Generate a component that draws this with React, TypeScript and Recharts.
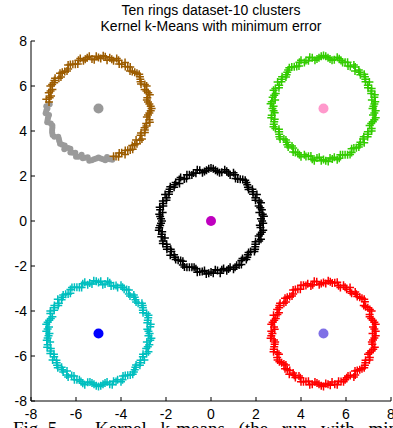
import React from "react";
import { ScatterChart, Scatter, XAxis, YAxis } from "recharts";

const TICKS = [-8, -6, -4, -2, 0, 2, 4, 6, 8];
const TITLE_1 = "Ten rings dataset-10 clusters";
const TITLE_2 = "Kernel k-Means with minimum error";

const RING_CENTER: [number, number][] = [
  [2.27, 0], [2.35, 0.21], [2.15, 0.38], [2.19, 0.59], [2.22, 0.81], [1.98, 0.92], [2.04, 1.18], [1.86, 1.3], [1.67, 1.4],
  [1.61, 1.61], [1.52, 1.81], [1.3, 1.86], [1.09, 1.89], [1.0, 2.14], [0.78, 2.13], [0.61, 2.28], [0.38, 2.15], [0.2, 2.26],
  [0, 2.36], [-0.2, 2.26], [-0.38, 2.15], [-0.61, 2.28], [-0.78, 2.13], [-0.96, 2.06], [-1.09, 1.89], [-1.35, 1.93], [-1.4, 1.67],
  [-1.61, 1.61], [-1.81, 1.52], [-1.86, 1.3], [-2.04, 1.18], [-1.98, 0.92], [-2.13, 0.78], [-2.28, 0.61], [-2.15, 0.38], [-2.26, 0.2],
  [-2.18, 0], [-2.26, -0.2], [-2.32, -0.41], [-2.19, -0.59], [-2.05, -0.75], [-2.14, -1.0], [-1.97, -1.14], [-1.79, -1.25], [-1.81, -1.52],
  [-1.61, -1.61], [-1.46, -1.74], [-1.25, -1.79], [-1.18, -2.04], [-0.96, -2.06], [-0.75, -2.05], [-0.61, -2.28], [-0.39, -2.24], [-0.21, -2.35],
  [0, -2.27], [0.19, -2.17], [0.41, -2.32], [0.56, -2.11], [0.78, -2.13], [1.0, -2.14], [1.14, -1.97], [1.35, -1.93], [1.4, -1.67],
  [1.61, -1.61], [1.67, -1.4], [1.93, -1.35], [1.97, -1.14], [1.98, -0.92], [2.22, -0.81], [2.19, -0.59], [2.32, -0.41], [2.17, -0.19],
  [2.22, 0.1], [2.3, 0.3], [2.26, 0.5], [2.12, 0.67], [2.14, 0.89], [1.97, 1.03], [1.87, 1.19], [1.84, 1.41], [1.64, 1.5],
  [1.57, 1.71], [1.41, 1.84], [1.19, 1.87], [1.07, 2.06], [0.85, 2.05], [0.7, 2.21], [0.48, 2.17], [0.29, 2.2], [0.1, 2.32],
  [-0.1, 2.32], [-0.29, 2.2], [-0.5, 2.26], [-0.67, 2.12], [-0.85, 2.05], [-1.07, 2.06], [-1.19, 1.87], [-1.41, 1.84], [-1.57, 1.71],
  [-1.64, 1.5], [-1.84, 1.41], [-1.87, 1.19], [-1.97, 1.03], [-2.14, 0.89], [-2.12, 0.67], [-2.26, 0.5], [-2.3, 0.3], [-2.22, 0.1],
  [-2.22, -0.1], [-2.3, -0.3], [-2.17, -0.48], [-2.21, -0.7], [-2.14, -0.89], [-1.97, -1.03], [-1.96, -1.25], [-1.76, -1.35], [-1.64, -1.5],
  [-1.57, -1.71], [-1.35, -1.76], [-1.25, -1.96], [-1.07, -2.06], [-0.85, -2.05], [-0.67, -2.12], [-0.5, -2.26], [-0.29, -2.2], [-0.1, -2.32],
  [0.1, -2.32], [0.29, -2.2], [0.48, -2.17], [0.7, -2.21], [0.85, -2.05], [1.07, -2.06], [1.25, -1.96], [1.35, -1.76], [1.57, -1.71],
  [1.64, -1.5], [1.76, -1.35], [1.96, -1.25], [1.97, -1.03], [2.14, -0.89], [2.12, -0.67], [2.26, -0.5], [2.2, -0.29], [2.32, -0.1],
];

const RING_GREEN: [number, number][] = [
  [2.73, 5], [2.65, 5.21], [2.85, 5.38], [2.81, 5.59], [2.78, 5.81], [3.02, 5.92], [2.96, 6.18], [3.14, 6.3], [3.33, 6.4],
  [3.39, 6.61], [3.48, 6.81], [3.7, 6.86], [3.91, 6.89], [4.0, 7.14], [4.22, 7.13], [4.39, 7.28], [4.62, 7.15], [4.8, 7.26],
  [5, 7.36], [5.2, 7.26], [5.38, 7.15], [5.61, 7.28], [5.78, 7.13], [5.96, 7.06], [6.09, 6.89], [6.35, 6.93], [6.4, 6.67],
  [6.61, 6.61], [6.81, 6.52], [6.86, 6.3], [7.04, 6.18], [6.98, 5.92], [7.13, 5.78], [7.28, 5.61], [7.15, 5.38], [7.26, 5.2],
  [7.18, 5], [7.26, 4.8], [7.32, 4.59], [7.19, 4.41], [7.05, 4.25], [7.14, 4.0], [6.97, 3.86], [6.79, 3.75], [6.81, 3.48],
  [6.61, 3.39], [6.46, 3.26], [6.25, 3.21], [6.18, 2.96], [5.96, 2.94], [5.75, 2.95], [5.61, 2.72], [5.39, 2.76], [5.21, 2.65],
  [5, 2.73], [4.81, 2.83], [4.59, 2.68], [4.44, 2.89], [4.22, 2.87], [4.0, 2.86], [3.86, 3.03], [3.65, 3.07], [3.6, 3.33],
  [3.39, 3.39], [3.33, 3.6], [3.07, 3.65], [3.03, 3.86], [3.02, 4.08], [2.78, 4.19], [2.81, 4.41], [2.68, 4.59], [2.83, 4.81],
  [7.22, 5.1], [7.3, 5.3], [7.26, 5.5], [7.12, 5.67], [7.14, 5.89], [6.97, 6.03], [6.87, 6.19], [6.84, 6.41], [6.64, 6.5],
  [6.57, 6.71], [6.41, 6.84], [6.19, 6.87], [6.07, 7.06], [5.85, 7.05], [5.7, 7.21], [5.48, 7.17], [5.29, 7.2], [5.1, 7.32],
  [4.9, 7.32], [4.71, 7.2], [4.5, 7.26], [4.33, 7.12], [4.15, 7.05], [3.93, 7.06], [3.81, 6.87], [3.59, 6.84], [3.43, 6.71],
  [3.36, 6.5], [3.16, 6.41], [3.13, 6.19], [3.03, 6.03], [2.86, 5.89], [2.88, 5.67], [2.74, 5.5], [2.7, 5.3], [2.78, 5.1],
  [2.78, 4.9], [2.7, 4.7], [2.83, 4.52], [2.79, 4.3], [2.86, 4.11], [3.03, 3.97], [3.04, 3.75], [3.24, 3.65], [3.36, 3.5],
  [3.43, 3.29], [3.65, 3.24], [3.75, 3.04], [3.93, 2.94], [4.15, 2.95], [4.33, 2.88], [4.5, 2.74], [4.71, 2.8], [4.9, 2.68],
  [5.1, 2.68], [5.29, 2.8], [5.48, 2.83], [5.7, 2.79], [5.85, 2.95], [6.07, 2.94], [6.25, 3.04], [6.35, 3.24], [6.57, 3.29],
  [6.64, 3.5], [6.76, 3.65], [6.96, 3.75], [6.97, 3.97], [7.14, 4.11], [7.12, 4.33], [7.26, 4.5], [7.2, 4.71], [7.32, 4.9],
];

const RING_CYAN: [number, number][] = [
  [-2.73, -5], [-2.65, -5.21], [-2.85, -5.38], [-2.81, -5.59], [-2.78, -5.81], [-3.02, -5.92], [-2.96, -6.18], [-3.14, -6.3], [-3.33, -6.4],
  [-3.39, -6.61], [-3.48, -6.81], [-3.7, -6.86], [-3.91, -6.89], [-4.0, -7.14], [-4.22, -7.13], [-4.39, -7.28], [-4.62, -7.15], [-4.8, -7.26],
  [-5, -7.36], [-5.2, -7.26], [-5.38, -7.15], [-5.61, -7.28], [-5.78, -7.13], [-5.96, -7.06], [-6.09, -6.89], [-6.35, -6.93], [-6.4, -6.67],
  [-6.61, -6.61], [-6.81, -6.52], [-6.86, -6.3], [-7.04, -6.18], [-6.98, -5.92], [-7.13, -5.78], [-7.28, -5.61], [-7.15, -5.38], [-7.26, -5.2],
  [-7.18, -5], [-7.26, -4.8], [-7.32, -4.59], [-7.19, -4.41], [-7.05, -4.25], [-7.14, -4.0], [-6.97, -3.86], [-6.79, -3.75], [-6.81, -3.48],
  [-6.61, -3.39], [-6.46, -3.26], [-6.25, -3.21], [-6.18, -2.96], [-5.96, -2.94], [-5.75, -2.95], [-5.61, -2.72], [-5.39, -2.76], [-5.21, -2.65],
  [-5, -2.73], [-4.81, -2.83], [-4.59, -2.68], [-4.44, -2.89], [-4.22, -2.87], [-4.0, -2.86], [-3.86, -3.03], [-3.65, -3.07], [-3.6, -3.33],
  [-3.39, -3.39], [-3.33, -3.6], [-3.07, -3.65], [-3.03, -3.86], [-3.02, -4.08], [-2.78, -4.19], [-2.81, -4.41], [-2.68, -4.59], [-2.83, -4.81],
  [-7.22, -5.1], [-7.3, -5.3], [-7.26, -5.5], [-7.12, -5.67], [-7.14, -5.89], [-6.97, -6.03], [-6.87, -6.19], [-6.84, -6.41], [-6.64, -6.5],
  [-6.57, -6.71], [-6.41, -6.84], [-6.19, -6.87], [-6.07, -7.06], [-5.85, -7.05], [-5.7, -7.21], [-5.48, -7.17], [-5.29, -7.2], [-5.1, -7.32],
  [-4.9, -7.32], [-4.71, -7.2], [-4.5, -7.26], [-4.33, -7.12], [-4.15, -7.05], [-3.93, -7.06], [-3.81, -6.87], [-3.59, -6.84], [-3.43, -6.71],
  [-3.36, -6.5], [-3.16, -6.41], [-3.13, -6.19], [-3.03, -6.03], [-2.86, -5.89], [-2.88, -5.67], [-2.74, -5.5], [-2.7, -5.3], [-2.78, -5.1],
  [-2.78, -4.9], [-2.7, -4.7], [-2.83, -4.52], [-2.79, -4.3], [-2.86, -4.11], [-3.03, -3.97], [-3.04, -3.75], [-3.24, -3.65], [-3.36, -3.5],
  [-3.43, -3.29], [-3.65, -3.24], [-3.75, -3.04], [-3.93, -2.94], [-4.15, -2.95], [-4.33, -2.88], [-4.5, -2.74], [-4.71, -2.8], [-4.9, -2.68],
  [-5.1, -2.68], [-5.29, -2.8], [-5.48, -2.83], [-5.7, -2.79], [-5.85, -2.95], [-6.07, -2.94], [-6.25, -3.04], [-6.35, -3.24], [-6.57, -3.29],
  [-6.64, -3.5], [-6.76, -3.65], [-6.96, -3.75], [-6.97, -3.97], [-7.14, -4.11], [-7.12, -4.33], [-7.26, -4.5], [-7.2, -4.71], [-7.32, -4.9],
];

const RING_RED: [number, number][] = [
  [2.73, -5], [2.65, -5.21], [2.85, -5.38], [2.81, -5.59], [2.78, -5.81], [3.02, -5.92], [2.96, -6.18], [3.14, -6.3], [3.33, -6.4],
  [3.39, -6.61], [3.48, -6.81], [3.7, -6.86], [3.91, -6.89], [4.0, -7.14], [4.22, -7.13], [4.39, -7.28], [4.62, -7.15], [4.8, -7.26],
  [5, -7.36], [5.2, -7.26], [5.38, -7.15], [5.61, -7.28], [5.78, -7.13], [5.96, -7.06], [6.09, -6.89], [6.35, -6.93], [6.4, -6.67],
  [6.61, -6.61], [6.81, -6.52], [6.86, -6.3], [7.04, -6.18], [6.98, -5.92], [7.13, -5.78], [7.28, -5.61], [7.15, -5.38], [7.26, -5.2],
  [7.18, -5], [7.26, -4.8], [7.32, -4.59], [7.19, -4.41], [7.05, -4.25], [7.14, -4.0], [6.97, -3.86], [6.79, -3.75], [6.81, -3.48],
  [6.61, -3.39], [6.46, -3.26], [6.25, -3.21], [6.18, -2.96], [5.96, -2.94], [5.75, -2.95], [5.61, -2.72], [5.39, -2.76], [5.21, -2.65],
  [5, -2.73], [4.81, -2.83], [4.59, -2.68], [4.44, -2.89], [4.22, -2.87], [4.0, -2.86], [3.86, -3.03], [3.65, -3.07], [3.6, -3.33],
  [3.39, -3.39], [3.33, -3.6], [3.07, -3.65], [3.03, -3.86], [3.02, -4.08], [2.78, -4.19], [2.81, -4.41], [2.68, -4.59], [2.83, -4.81],
  [5.1, -7.22], [5.3, -7.3], [5.5, -7.26], [5.67, -7.12], [5.89, -7.14], [6.03, -6.97], [6.19, -6.87], [6.41, -6.84], [6.5, -6.64],
  [6.71, -6.57], [6.84, -6.41], [6.87, -6.19], [7.06, -6.07], [7.05, -5.85], [7.21, -5.7], [7.17, -5.48], [7.2, -5.29], [7.32, -5.1],
  [7.32, -4.9], [7.2, -4.71], [7.26, -4.5], [7.12, -4.33], [7.05, -4.15], [7.06, -3.93], [6.87, -3.81], [6.84, -3.59], [6.71, -3.43],
  [6.5, -3.36], [6.41, -3.16], [6.19, -3.13], [6.03, -3.03], [5.89, -2.86], [5.67, -2.88], [5.5, -2.74], [5.3, -2.7], [5.1, -2.78],
  [4.9, -2.78], [4.7, -2.7], [4.52, -2.83], [4.3, -2.79], [4.11, -2.86], [3.97, -3.03], [3.75, -3.04], [3.65, -3.24], [3.5, -3.36],
  [3.29, -3.43], [3.24, -3.65], [3.04, -3.75], [2.94, -3.93], [2.95, -4.15], [2.88, -4.33], [2.74, -4.5], [2.8, -4.71], [2.68, -4.9],
  [2.68, -5.1], [2.8, -5.29], [2.83, -5.48], [2.79, -5.7], [2.95, -5.85], [2.94, -6.07], [3.04, -6.25], [3.24, -6.35], [3.29, -6.57],
  [3.5, -6.64], [3.65, -6.76], [3.75, -6.96], [3.97, -6.97], [4.11, -7.14], [4.33, -7.12], [4.5, -7.26], [4.71, -7.2], [4.9, -7.32],
];

const ARC_BROWN: [number, number][] = [
  [-5, 7.27], [-4.79, 7.35], [-4.62, 7.15], [-4.41, 7.19], [-4.19, 7.22], [-4.08, 6.98], [-3.82, 7.04], [-3.7, 6.86], [-3.6, 6.67],
  [-3.39, 6.61], [-3.19, 6.52], [-3.14, 6.3], [-3.11, 6.09], [-2.86, 6.0], [-2.87, 5.78], [-2.72, 5.61], [-2.85, 5.38], [-2.74, 5.2],
  [-2.64, 5], [-2.74, 4.8], [-2.85, 4.62], [-2.72, 4.39], [-2.87, 4.22], [-2.94, 4.04], [-3.11, 3.91], [-3.07, 3.65], [-3.33, 3.6],
  [-3.39, 3.39], [-3.48, 3.19], [-3.7, 3.14], [-3.82, 2.96], [-4.08, 3.02], [-4.22, 2.87],
  [-7.32, 5.41], [-7.11, 5.56], [-7.13, 5.78], [-7.14, 6.0], [-6.97, 6.14], [-6.93, 6.35], [-6.67, 6.4], [-6.61, 6.61],
  [-6.4, 6.67], [-6.35, 6.93], [-6.14, 6.97], [-5.92, 6.98], [-5.81, 7.22], [-5.59, 7.19], [-5.41, 7.32], [-5.19, 7.17],
  [-4.9, 7.22], [-4.7, 7.3], [-4.5, 7.26], [-4.33, 7.12], [-4.11, 7.14], [-3.97, 6.97], [-3.81, 6.87], [-3.59, 6.84], [-3.5, 6.64],
  [-3.29, 6.57], [-3.16, 6.41], [-3.13, 6.19], [-2.94, 6.07], [-2.95, 5.85], [-2.79, 5.7], [-2.83, 5.48], [-2.8, 5.29], [-2.68, 5.1],
  [-2.68, 4.9], [-2.8, 4.71], [-2.74, 4.5], [-2.88, 4.33], [-2.95, 4.15], [-2.94, 3.93], [-3.13, 3.81], [-3.16, 3.59], [-3.29, 3.43],
  [-3.5, 3.36], [-3.59, 3.16], [-3.81, 3.13], [-3.97, 3.03], [-4.11, 2.86], [-4.33, 2.88],
  [-7.2, 5.29], [-7.17, 5.48], [-7.21, 5.7], [-7.05, 5.85], [-7.06, 6.07], [-6.96, 6.25], [-6.76, 6.35], [-6.71, 6.57], [-6.5, 6.64],
  [-6.35, 6.76], [-6.25, 6.96], [-6.03, 6.97], [-5.89, 7.14], [-5.67, 7.12], [-5.5, 7.26], [-5.29, 7.2], [-5.1, 7.32],
];

const ARC_GREY: [number, number][] = [
  [-4.39, 2.72], [-4.62, 2.85], [-4.8, 2.74], [-5, 2.82], [-5.2, 2.74], [-5.41, 2.68], [-5.59, 2.81], [-5.75, 2.95], [-6.0, 2.86],
  [-6.14, 3.03], [-6.25, 3.21], [-6.52, 3.19], [-6.61, 3.39], [-6.74, 3.54], [-6.79, 3.75], [-7.04, 3.82], [-7.06, 4.04], [-7.05, 4.25],
  [-7.28, 4.39], [-7.24, 4.61], [-7.35, 4.79], [-7.27, 5], [-7.17, 5.19],
  [-4.5, 2.74], [-4.7, 2.7], [-4.9, 2.78], [-5.1, 2.78], [-5.3, 2.7], [-5.48, 2.83], [-5.7, 2.79], [-5.89, 2.86], [-6.03, 3.03],
  [-6.25, 3.04], [-6.35, 3.24], [-6.5, 3.36], [-6.71, 3.43], [-6.76, 3.65], [-6.96, 3.75], [-7.06, 3.93], [-7.05, 4.15], [-7.12, 4.33],
  [-7.26, 4.5], [-7.2, 4.71], [-7.32, 4.9], [-7.32, 5.1],
];

const CENTERS: { x: number; y: number; color: string }[] = [
  { x: -5, y: 5, color: "#999999" },
  { x: 5, y: 5, color: "#FF99CC" },
  { x: 0, y: 0, color: "#BF00BF" },
  { x: -5, y: -5, color: "#0000FF" },
  { x: 5, y: -5, color: "#7F70E6" },
];

const toPts = (a: [number, number][]) => a.map(([x, y]) => ({ x, y }));

const FONT = "'Liberation Sans', Arial, Helvetica, sans-serif";

const plusShape = (color: string) => (p: any) => {
  const { cx, cy } = p;
  if (cx == null || cy == null) return <g />;
  const s = 4;
  return (
    <path
      d={`M${cx - s},${cy}H${cx + s}M${cx},${cy - s}V${cy + s}`}
      stroke={color}
      strokeWidth={1.5}
      fill="none"
    />
  );
};

const dotShape = (color: string, r: number) => (p: any) => {
  const { cx, cy } = p;
  if (cx == null || cy == null) return <g />;
  return <circle cx={cx} cy={cy} r={r} fill={color} />;
};

const centerShape = (p: any) => {
  const { cx, cy, payload } = p;
  if (cx == null || cy == null) return <g />;
  return <circle cx={cx} cy={cy} r={5} fill={payload.color} />;
};

const XTick = (props: any) => {
  const { x, y, payload } = props;
  return (
    <g>
      <line x1={x} x2={x} y1={y} y2={y - 4} stroke="#000" strokeWidth={1} />
      <text x={x} y={y + 18} textAnchor="middle" fontSize={14} fontFamily={FONT} fill="#000">
        {String(payload.value)}
      </text>
    </g>
  );
};

const YTick = (props: any) => {
  const { x, y, payload } = props;
  return (
    <g>
      <line x1={x} x2={x + 4} y1={y} y2={y} stroke="#000" strokeWidth={1} />
      <text x={x - 4} y={y + 5} textAnchor="end" fontSize={14} fontFamily={FONT} fill="#000">
        {String(payload.value)}
      </text>
    </g>
  );
};

export default function App() {
  return (
    <div style={{ position: "absolute", left: 0, top: 0, width: 393, height: 428, background: "#fff", overflow: "hidden" }}>
      <ScatterChart width={393} height={428} margin={{ top: 41, right: 2, bottom: 0, left: 0 }}>
        <XAxis
          type="number"
          dataKey="x"
          domain={[-8, 8]}
          ticks={TICKS}
          interval={0}
          allowDataOverflow
          height={27}
          tickSize={0}
          tickMargin={0}
          tickLine={false}
          axisLine={{ stroke: "#000", strokeWidth: 1 }}
          tick={<XTick />}
        />
        <YAxis
          type="number"
          dataKey="y"
          domain={[-8, 8]}
          ticks={TICKS}
          interval={0}
          allowDataOverflow
          width={31}
          tickSize={0}
          tickMargin={0}
          tickLine={false}
          axisLine={{ stroke: "#000", strokeWidth: 1 }}
          tick={<YTick />}
        />
        <Scatter data={toPts(ARC_GREY)} isAnimationActive={false} shape={dotShape("#9A9A9A", 3)} />
        <Scatter data={toPts(ARC_BROWN)} isAnimationActive={false} shape={plusShape("#9C5C00")} />
        <Scatter data={toPts(RING_GREEN)} isAnimationActive={false} shape={plusShape("#33CC00")} />
        <Scatter data={toPts(RING_CENTER)} isAnimationActive={false} shape={plusShape("#000000")} />
        <Scatter data={toPts(RING_CYAN)} isAnimationActive={false} shape={plusShape("#00BFBF")} />
        <Scatter data={toPts(RING_RED)} isAnimationActive={false} shape={plusShape("#FF0000")} />
        <Scatter data={CENTERS} isAnimationActive={false} shape={centerShape} />
      </ScatterChart>
      <svg
        width={393}
        height={428}
        style={{ position: "absolute", left: 0, top: 0, pointerEvents: "none" }}
      >
        <text x={211} y={15} textAnchor="middle" fontSize={14} fontFamily={FONT} fill="#000">
          {TITLE_1}
        </text>
        <text x={211} y={31} textAnchor="middle" fontSize={14} fontFamily={FONT} fill="#000">
          {TITLE_2}
        </text>
        <text y={435} fontSize={19} fontFamily="'Liberation Serif', 'Times New Roman', serif" fill="#000">
          <tspan x={13}>Fig. 5.</tspan>
          <tspan x={95} style={{ wordSpacing: 9 }}>Kernel k-means (the run with minimum error)</tspan>
        </text>
      </svg>
    </div>
  );
}
